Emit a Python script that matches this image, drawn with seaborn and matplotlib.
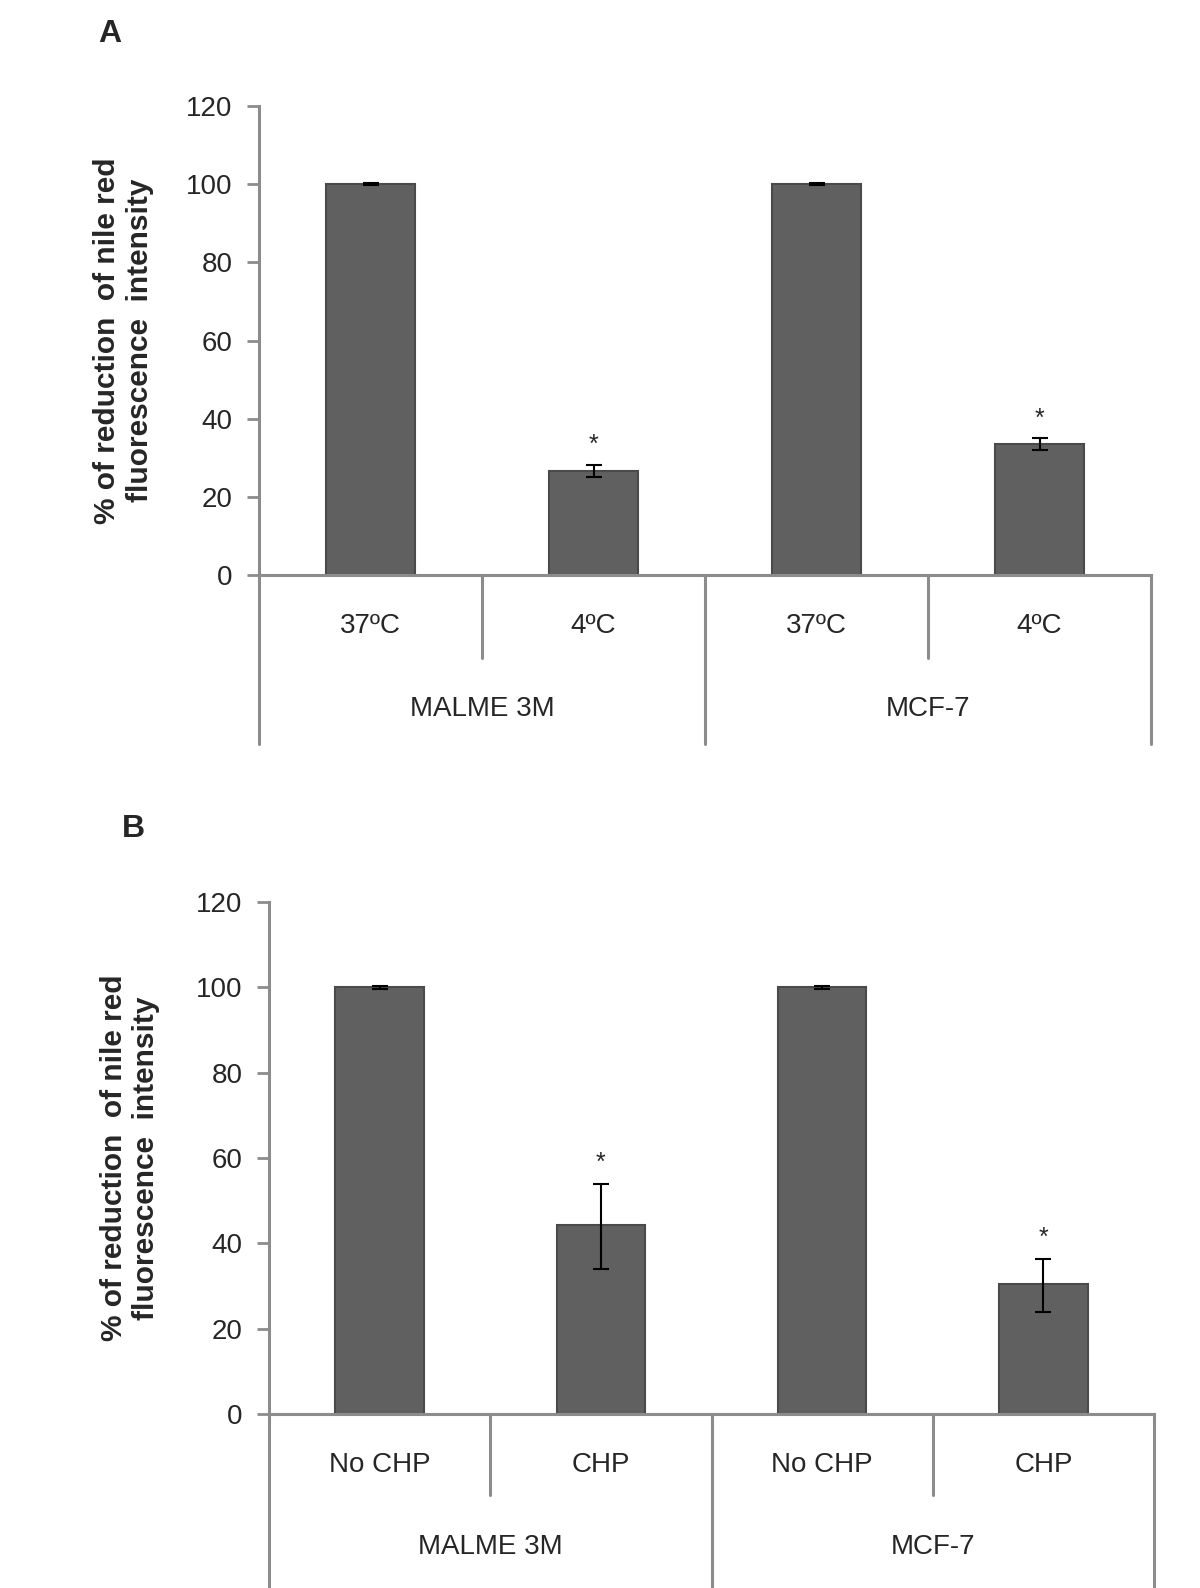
import numpy as np
import pandas as pd
import matplotlib
matplotlib.use("Agg")
import matplotlib.pyplot as plt
import seaborn as sns

sns.set_style("white")
plt.rcParams['font.family'] = ['Liberation Sans', 'DejaVu Sans']

# ---- data ----
groups = ["MALME 3M", "MCF-7"]
cond_a = ["37ºC", "4ºC", "37ºC", "4ºC"]
vals_a = [100.0, 26.7, 100.0, 33.5]
err_lo_a = [0.3, 1.5, 0.3, 1.5]
err_hi_a = [0.3, 1.5, 0.3, 1.5]
star_a = [False, True, False, True]

cond_b = ["No CHP", "CHP", "No CHP", "CHP"]
vals_b = [100.0, 44.4, 100.0, 30.5]
err_lo_b = [0.4, 10.5, 0.4, 6.5]
err_hi_b = [0.4, 9.5, 0.4, 5.8]
star_b = [False, True, False, True]

yticks = [0, 20, 40, 60, 80, 100, 120]
ylabel = "% of reduction  of nile red\nfluorescence  intensity"

FIG_W, FIG_H = 1200, 1588
fig = plt.figure(figsize=(FIG_W / 100, FIG_H / 100), dpi=100)

AXIS_COL = "#8c8c8c"
BAR_COL = "#606060"
EDGE_COL = "#4a4a4a"


def px_box(left, right, top, bottom):
    return [left / FIG_W, 1 - bottom / FIG_H, (right - left) / FIG_W, (bottom - top) / FIG_H]


def draw_panel(box, conds, vals, elo, ehi, stars, short_px, long_px, lab_px, grp_px, ylab_x):
    ax = fig.add_axes(box)
    keys = [f"{g}|{c}" for g in groups for c in conds[:2]]
    df = pd.DataFrame({"key": keys, "val": vals})
    sns.barplot(data=df, x="key", y="val", order=keys, color=BAR_COL, width=0.4,
                saturation=1, edgecolor=EDGE_COL, linewidth=1.5, errorbar=None, ax=ax)
    xs = np.arange(len(keys))
    ax.errorbar(xs, vals, yerr=[elo, ehi], fmt="none", ecolor="black", elinewidth=1.5,
                capsize=6, capthick=1.5, zorder=5)
    for x, v, e, s in zip(xs, vals, ehi, stars):
        if s:
            ax.text(x, v + e + 5.0, "*", ha="center", va="center", fontsize=18)
    ax.set_xlim(-0.5, len(keys) - 0.5)
    ax.set_ylim(0, 120)
    ax.set_yticks(yticks)
    ax.tick_params(axis="y", labelsize=20, length=9, width=2, color=AXIS_COL,
                   direction="out", pad=10, left=True)
    ax.set_xticks([])
    ax.set_xlabel("")
    for sp in ["top", "right"]:
        ax.spines[sp].set_visible(False)
    for sp in ["left", "bottom"]:
        ax.spines[sp].set_color(AXIS_COL)
        ax.spines[sp].set_linewidth(2.2)
    ax.set_ylabel(ylabel, fontsize=21.5, fontweight="bold", ha="center", va="center",
                  linespacing=1.2)
    ax.yaxis.set_label_coords(ylab_x, 0.5)

    h_px = box[3] * FIG_H

    def fr(px):
        return -px / h_px

    # multi-level category axis lines
    for xd in [-0.5, 1.5, 3.5]:
        ax.plot([xd, xd], [0, fr(long_px)], color=AXIS_COL, lw=2.2,
                transform=ax.get_xaxis_transform(), clip_on=False)
    for xd in [0.5, 2.5]:
        ax.plot([xd, xd], [0, fr(short_px)], color=AXIS_COL, lw=2.2,
                transform=ax.get_xaxis_transform(), clip_on=False)
    for x, c in zip(xs, conds):
        ax.text(x, fr(lab_px), c, ha="center", va="center", fontsize=20,
                transform=ax.get_xaxis_transform())
    for gi, g in enumerate(groups):
        ax.text(0.5 + 2 * gi, fr(grp_px), g, ha="center", va="center", fontsize=20,
                transform=ax.get_xaxis_transform())
    return ax


axA = draw_panel(px_box(259, 1151, 106, 575), cond_a, vals_a, err_lo_a, err_hi_a, star_a,
                 short_px=83, long_px=169, lab_px=51, grp_px=134, ylab_x=-0.152)
axB = draw_panel(px_box(269, 1154, 902, 1414), cond_b, vals_b, err_lo_b, err_hi_b, star_b,
                 short_px=81, long_px=178, lab_px=51, grp_px=133, ylab_x=-0.157)

fig.text(110 / FIG_W, 1 - 34 / FIG_H, "A", fontsize=23, fontweight="bold", ha="center", va="center")
fig.text(133 / FIG_W, 1 - 829 / FIG_H, "B", fontsize=23, fontweight="bold", ha="center", va="center")

fig.savefig("out.png", dpi=100, facecolor="white")
